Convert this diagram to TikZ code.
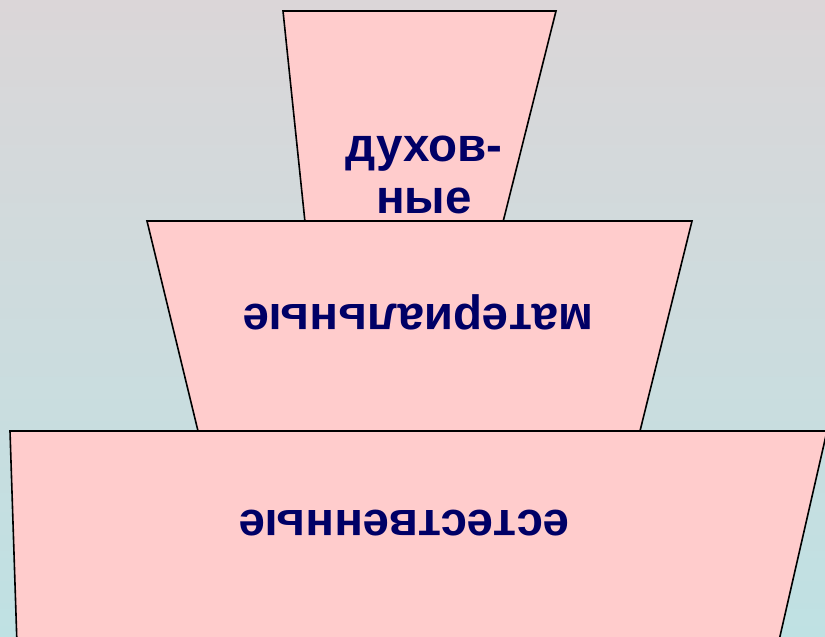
\documentclass[tikz,border=0pt]{standalone}
\usepackage{fontspec}
\setmainfont{Liberation Sans}
\definecolor{bgtop}{RGB}{219,214,216}
\definecolor{bgbot}{RGB}{191,225,227}
\definecolor{pinkfill}{RGB}{255,204,204}
\definecolor{navy}{RGB}{0,0,102}
\tikzset{
  tier/.style={fill=pinkfill, draw=black, line width=1.6pt, line join=miter},
  lbl/.style={text=navy, font=\bfseries\fontsize{47.5}{52}\selectfont, align=center, inner sep=0pt}
}
\begin{document}
\begin{tikzpicture}[x=1pt,y=-1pt]
\useasboundingbox (0,0) rectangle (825,637);
\shade[top color=bgtop, bottom color=bgbot] (0,0) rectangle (825,637);
% top tier
\draw[tier] (283,11) -- (556,11) -- (503,222) -- (305,222) -- cycle;
% middle tier
\draw[tier] (147,221) -- (692,221) -- (640,431) -- (198,431) -- cycle;
% bottom tier
\draw[tier] (10,431) -- (827,431) -- (778,645) -- (17,645) -- cycle;
\node[lbl] (top) at (424,175) {духов-\\ные};
\node[lbl, rotate=180] (mid) at (418,312) {материальные};
\node[lbl, rotate=180] (bot) at (404,523) {естественные};
\end{tikzpicture}
\end{document}
